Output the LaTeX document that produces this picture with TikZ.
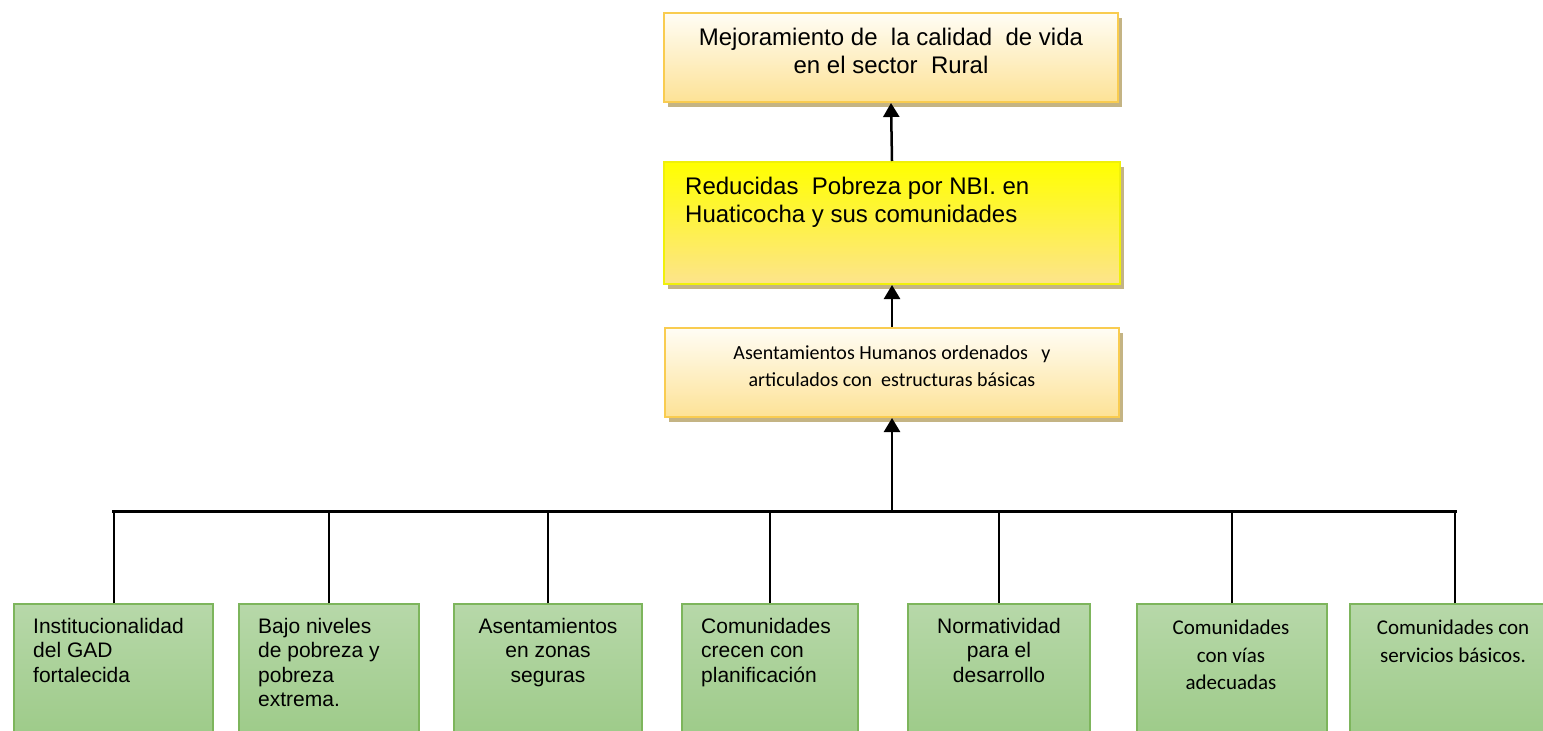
\documentclass[tikz,border=0pt]{standalone}
\usepackage{fontspec}
\setmainfont{Liberation Sans}
\newfontfamily\calibri{Carlito}
\usetikzlibrary{arrows.meta, shadows}
\definecolor{PaleTop}{RGB}{255,253,245}
\definecolor{PaleBottom}{RGB}{253,226,150}
\definecolor{GoldEdge}{RGB}{249,204,80}
\definecolor{ShadowTan}{RGB}{196,180,132}
\definecolor{YellowTop}{RGB}{255,255,0}
\definecolor{YellowBottom}{RGB}{253,228,140}
\definecolor{YellowEdge}{RGB}{240,240,10}
\definecolor{GreenTop}{RGB}{183,216,169}
\definecolor{GreenBottom}{RGB}{156,202,135}
\definecolor{GreenEdge}{RGB}{125,181,92}

\begin{document}
\begin{tikzpicture}[x=1pt, y=-1pt,
    palebox/.style={draw=GoldEdge, line width=2pt, top color=PaleTop, bottom color=PaleBottom,
      drop shadow={shadow xshift=4pt, shadow yshift=-5pt, fill=ShadowTan, opacity=1},
      minimum width=454pt, minimum height=89pt, inner sep=0pt},
    yellowbox/.style={palebox, draw=YellowEdge, top color=YellowTop, bottom color=YellowBottom,
      minimum width=456pt, minimum height=122pt},
    greenbox/.style={draw=GreenEdge, line width=1.5pt, top color=GreenTop, bottom color=GreenBottom,
      minimum height=140pt, inner sep=0pt},
    toptext/.style={font=\fontsize{24}{28}\selectfont, inner sep=0pt},
    midtext/.style={font=\calibri\fontsize{20}{27}\selectfont, inner sep=0pt, align=center},
    leaftext/.style={font=\fontsize{21}{24.5}\selectfont, inner sep=0pt},
    leafcal/.style={font=\calibri\fontsize{21}{27.5}\selectfont, inner sep=0pt, align=center},
    up/.style={-{Triangle[length=14pt, width=16pt]}, line width=2.5pt},
    bus/.style={line width=3pt, line cap=rect},
    drop/.style={line width=2pt}]
    \useasboundingbox (0,0) rectangle (1543,731);

    % Upper boxes
    \node[palebox] (goal) at (891,57.5) {};
    \node[yellowbox] (purpose) at (892,223) {};
    \node[palebox] (component) at (892,372.5) {};

    \node[toptext, align=center] (goal-t) at (891,51) {Mejoramiento de\ \ la calidad\ \ de vida\\en el sector\ \ Rural};
    \node[toptext, align=left, anchor=west] (purpose-t) at (685,202) {Reducidas\ \ Pobreza por NBI. en\\Huaticocha y sus comunidades};
    \node[midtext] (component-t) at (892,366) {Asentamientos Humanos ordenados\ \ \ y\\articulados con\ \ estructuras básicas};

    % Activity boxes
    \node[greenbox, minimum width=199pt] (inst) at (113.5,674) {};
    \node[greenbox, minimum width=180pt] (pobreza) at (329,674) {};
    \node[greenbox, minimum width=188pt] (zonas) at (548,674) {};
    \node[greenbox, minimum width=176pt] (plan) at (770,674) {};
    \node[greenbox, minimum width=182pt] (norma) at (999,674) {};
    \node[greenbox, minimum width=190pt] (vias) at (1232,674) {};
    \node[greenbox, minimum width=210pt] (serv) at (1455,674) {};

    \node[leaftext, align=left, anchor=north west] (inst-t) at (33,618) {Institucionalidad\\del GAD\\fortalecida};
    \node[leaftext, align=left, anchor=north west] (pobreza-t) at (258,618) {Bajo niveles\\de pobreza y\\pobreza\\extrema.};
    \node[leaftext, align=center, anchor=north] (zonas-t) at (548,618) {Asentamientos\\en zonas\\seguras};
    \node[leaftext, align=left, anchor=north west] (plan-t) at (701,618) {Comunidades\\crecen con\\planificación};
    \node[leaftext, align=center, anchor=north] (norma-t) at (999,618) {Normatividad\\para el\\desarrollo};
    \node[leafcal, anchor=north] (vias-t) at (1231,620) {Comunidades\\con vías\\adecuadas};
    \node[leafcal, anchor=north] (serv-t) at (1453,620) {Comunidades con\\servicios básicos.};

    % Arrows
    \coordinate (hub) at (892,511);
    \draw[up] (purpose.north) -- (goal.south);
    \draw[up] (component.north) -- (purpose.south);
    \draw[up] (hub) -- (component.south);

    % Bus and drops
    \draw[bus] (inst.north |- hub) -- (serv.north |- hub);
    \draw[drop] (inst.north) -- (inst.north |- hub);
    \draw[drop] (pobreza.north) -- (pobreza.north |- hub);
    \draw[drop] (zonas.north) -- (zonas.north |- hub);
    \draw[drop] (plan.north) -- (plan.north |- hub);
    \draw[drop] (norma.north) -- (norma.north |- hub);
    \draw[drop] (vias.north) -- (vias.north |- hub);
    \draw[drop] (serv.north) -- (serv.north |- hub);
  \end{tikzpicture}
\end{document}
